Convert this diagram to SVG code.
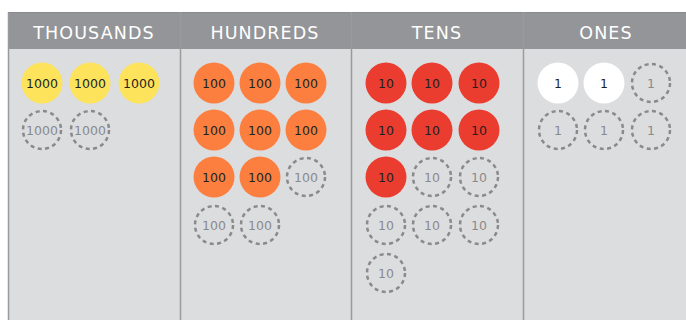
<svg xmlns="http://www.w3.org/2000/svg" width="686" height="320" viewBox="0 0 686 320">
<style>
.hdr{fill:#949598}
.body{fill:#dcdddf}
.div{stroke:#9a9b9d;stroke-width:1.5}
.ht{font-family:"DejaVu Sans",sans-serif;font-size:17.5px;fill:#ffffff;text-anchor:middle;letter-spacing:1.1px}
.ct{font-family:"DejaVu Sans",sans-serif;font-size:12.5px;text-anchor:middle;fill:#231f20}
.et{font-family:"DejaVu Sans",sans-serif;font-size:12.5px;text-anchor:middle;fill:#8a8a8c}
.y{fill:#fde35b}
.o{fill:#fd7f3f}
.r{fill:#eb3c30}
.w{fill:#ffffff}
.e{fill:none;stroke:#8a8a8c;stroke-width:2.5;stroke-dasharray:4 3.5}
</style>
<rect x="8" y="12" width="678" height="308" class="body"/>
<rect x="8" y="12" width="678" height="37" class="hdr"/>
<line x1="8.5" y1="12" x2="8.5" y2="320" class="div"/>
<line x1="8" y1="12.5" x2="686" y2="12.5" stroke="#8a8b8d" stroke-width="1"/>
<line x1="180.5" y1="12" x2="180.5" y2="320" class="div"/>
<line x1="351.5" y1="12" x2="351.5" y2="320" class="div"/>
<line x1="523.5" y1="12" x2="523.5" y2="320" class="div"/>
<text class="ht" x="94" y="39">THOUSANDS</text>
<text class="ht" x="265" y="39">HUNDREDS</text>
<text class="ht" x="437" y="39">TENS</text>
<text class="ht" x="606" y="39">ONES</text>
<g id="thousands">
<circle class="y" cx="42" cy="83" r="20.5"/><text class="ct" x="42" y="87.5">1000</text>
<circle class="y" cx="90" cy="83" r="20.5"/><text class="ct" x="90" y="87.5">1000</text>
<circle class="y" cx="139" cy="83" r="20.5"/><text class="ct" x="139" y="87.5">1000</text>
<circle class="e" cx="42" cy="130" r="19"/><text class="et" x="42" y="134.5">1000</text>
<circle class="e" cx="90" cy="130" r="19"/><text class="et" x="90" y="134.5">1000</text>
</g>
<g id="hundreds">
<circle class="o" cx="214" cy="83" r="20.5"/><text class="ct" x="214" y="87.5">100</text>
<circle class="o" cx="260" cy="83" r="20.5"/><text class="ct" x="260" y="87.5">100</text>
<circle class="o" cx="306" cy="83" r="20.5"/><text class="ct" x="306" y="87.5">100</text>
<circle class="o" cx="214" cy="130" r="20.5"/><text class="ct" x="214" y="134.5">100</text>
<circle class="o" cx="260" cy="130" r="20.5"/><text class="ct" x="260" y="134.5">100</text>
<circle class="o" cx="306" cy="130" r="20.5"/><text class="ct" x="306" y="134.5">100</text>
<circle class="o" cx="214" cy="177" r="20.5"/><text class="ct" x="214" y="181.5">100</text>
<circle class="o" cx="260" cy="177" r="20.5"/><text class="ct" x="260" y="181.5">100</text>
<circle class="e" cx="306" cy="177" r="19"/><text class="et" x="306" y="181.5">100</text>
<circle class="e" cx="214" cy="225" r="19"/><text class="et" x="214" y="229.5">100</text>
<circle class="e" cx="260" cy="225" r="19"/><text class="et" x="260" y="229.5">100</text>
</g>
<g id="tens">
<circle class="r" cx="386" cy="83" r="20.5"/><text class="ct" x="386" y="87.5">10</text>
<circle class="r" cx="432" cy="83" r="20.5"/><text class="ct" x="432" y="87.5">10</text>
<circle class="r" cx="479" cy="83" r="20.5"/><text class="ct" x="479" y="87.5">10</text>
<circle class="r" cx="386" cy="130" r="20.5"/><text class="ct" x="386" y="134.5">10</text>
<circle class="r" cx="432" cy="130" r="20.5"/><text class="ct" x="432" y="134.5">10</text>
<circle class="r" cx="479" cy="130" r="20.5"/><text class="ct" x="479" y="134.5">10</text>
<circle class="r" cx="386" cy="177" r="20.5"/><text class="ct" x="386" y="181.5">10</text>
<circle class="e" cx="432" cy="177" r="19"/><text class="et" x="432" y="181.5">10</text>
<circle class="e" cx="479" cy="177" r="19"/><text class="et" x="479" y="181.5">10</text>
<circle class="e" cx="386" cy="225" r="19"/><text class="et" x="386" y="229.5">10</text>
<circle class="e" cx="432" cy="225" r="19"/><text class="et" x="432" y="229.5">10</text>
<circle class="e" cx="479" cy="225" r="19"/><text class="et" x="479" y="229.5">10</text>
<circle class="e" cx="386" cy="273" r="19"/><text class="et" x="386" y="277.5">10</text>
</g>
<g id="ones">
<circle class="w" cx="558" cy="83" r="20.5"/><text class="ct" x="558" y="87.5">1</text>
<circle class="w" cx="604" cy="83" r="20.5"/><text class="ct" x="604" y="87.5">1</text>
<circle class="e" cx="651" cy="83" r="19"/><text class="et" x="651" y="87.5">1</text>
<circle class="e" cx="558" cy="130" r="19"/><text class="et" x="558" y="134.5">1</text>
<circle class="e" cx="604" cy="130" r="19"/><text class="et" x="604" y="134.5">1</text>
<circle class="e" cx="651" cy="130" r="19"/><text class="et" x="651" y="134.5">1</text>
</g>
</svg>
